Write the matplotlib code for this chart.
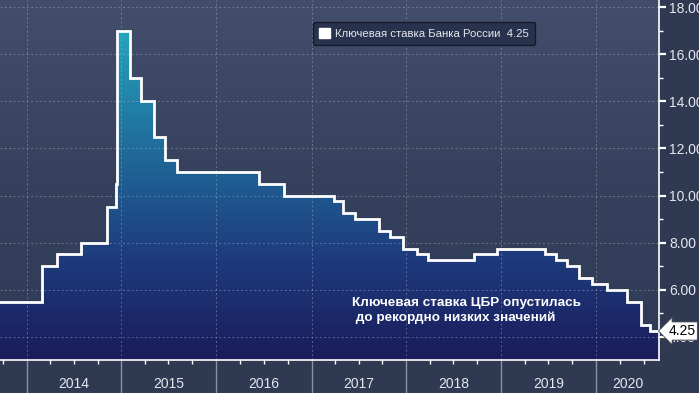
import numpy as np
import pandas as pd
import matplotlib
matplotlib.use('Agg')
from matplotlib import pyplot as plt
from matplotlib import dates as mdates
from matplotlib import transforms
from matplotlib.colors import LinearSegmentedColormap, Normalize
from matplotlib.patches import Patch
from matplotlib.ticker import MultipleLocator, FormatStrFormatter

plt.rcParams['font.family'] = ['Liberation Sans', 'DejaVu Sans']

# key rate of the Bank of Russia, date of change -> new level
change_dates = ['2013-09-13', '2014-03-03', '2014-04-28', '2014-07-28', '2014-11-05',
                '2014-12-12', '2014-12-16', '2015-02-02', '2015-03-16', '2015-05-05',
                '2015-06-16', '2015-08-03', '2016-06-14', '2016-09-19', '2017-03-27',
                '2017-05-02', '2017-06-19', '2017-09-18', '2017-10-30', '2017-12-18',
                '2018-02-12', '2018-03-26', '2018-09-17', '2018-12-17', '2019-06-17',
                '2019-07-29', '2019-09-09', '2019-10-28', '2019-12-16', '2020-02-10',
                '2020-04-27', '2020-06-22', '2020-07-27']
rates = [5.5, 7.0, 7.5, 8.0, 9.5,
         10.5, 17.0, 15.0, 14.0, 12.5,
         11.5, 11.0, 10.5, 10.0, 9.75,
         9.25, 9.0, 8.5, 8.25, 7.75,
         7.5, 7.25, 7.5, 7.75, 7.5,
         7.25, 7.0, 6.5, 6.25, 6.0,
         5.5, 4.5, 4.25]
last_date = '2020-08-28'
years = [2014, 2015, 2016, 2017, 2018, 2019, 2020]

legend_label = 'Ключевая ставка Банка России  4.25'
note_text = 'Ключевая ставка ЦБР опустилась\n до рекордно низких значений'
last_label = '4.25'

X_START = '2013-09-21'
X_END = '2020-08-30'
Y_MIN, Y_MAX = 3.02, 18.3

BG_FIG = '#2f3a52'
LABEL_COLOR = '#e4e7ee'


def build_series():
  xs = mdates.date2num(pd.to_datetime(change_dates + [last_date]))
  ys = np.array(rates + [rates[-1]])
  return xs, ys


def draw_background(ax, x0, x1):
  bg_cmap = LinearSegmentedColormap.from_list('bg', ['#2f3a56', '#36415e', '#434e6c'])
  grad = np.linspace(1, 0, 256).reshape(-1, 1)
  ax.imshow(grad, extent=[x0, x1, Y_MIN, Y_MAX], aspect='auto', cmap=bg_cmap,
            vmin=0, vmax=1, zorder=0, interpolation='bicubic')


def draw_area(ax, xs, ys, x0, x1):
  poly = ax.fill_between(xs, Y_MIN - 1, ys, step='post', facecolor='none',
                         edgecolor='none', zorder=1)
  fill_cmap = LinearSegmentedColormap.from_list(
    'fill', [(0.0, '#1a1c5a'), (0.3, '#1e3a7c'), (0.6, '#1f6596'), (1.0, '#25a3bd')])
  grad = np.linspace(Y_MAX, Y_MIN, 256).reshape(-1, 1)
  im = ax.imshow(grad, extent=[x0, x1, Y_MIN, Y_MAX], aspect='auto', cmap=fill_cmap,
                 norm=Normalize(3.0, 17.0), zorder=1, interpolation='bicubic')
  im.set_clip_path(poly.get_paths()[0], transform=ax.transData)
  ax.step(xs, ys, where='post', color='white', linewidth=2.0, zorder=4,
          solid_joinstyle='miter')


def style_axes(ax, fig, x0, x1):
  ax.set_xlim(x0, x1)
  ax.set_ylim(Y_MIN, Y_MAX)

  for side in ['left', 'top']:
    ax.spines[side].set_visible(False)
  for side in ['right', 'bottom']:
    ax.spines[side].set_color('white')
    ax.spines[side].set_linewidth(1.2)
    ax.spines[side].set_zorder(5)

  # right value axis
  ax.yaxis.tick_right()
  ax.yaxis.set_major_locator(MultipleLocator(2))
  ax.yaxis.set_minor_locator(MultipleLocator(1))
  ax.yaxis.set_major_formatter(FormatStrFormatter('%.2f'))
  ax.tick_params(axis='y', which='major', direction='out', length=5, width=1.6,
                 color='white', labelcolor=LABEL_COLOR, labelsize=10, pad=2)
  ax.tick_params(axis='y', which='minor', direction='out', length=3, width=1,
                 color='white')

  # time axis: long separators at year starts, short ticks at quarters
  ax.xaxis.set_major_locator(mdates.YearLocator())
  ax.xaxis.set_minor_locator(mdates.MonthLocator(bymonth=[4, 7, 10]))
  ax.xaxis.set_major_formatter(plt.NullFormatter())
  ax.tick_params(axis='x', which='major', direction='out', length=24, width=1,
                 color='#8a93a6')
  ax.tick_params(axis='x', which='minor', direction='out', length=3, width=1,
                 color='white')

  ax.grid(True, which='major', color='#aab2c6', alpha=0.45, linewidth=0.7,
          linestyle=(0, (2, 2.5)), zorder=3)
  ax.set_axisbelow(False)
  for line in ax.get_xgridlines() + ax.get_ygridlines():
    line.set_zorder(3)

  trans = ax.get_xaxis_transform()
  for y in years:
    start = mdates.date2num(pd.Timestamp(f'{y}-01-01'))
    end = min(mdates.date2num(pd.Timestamp(f'{y + 1}-01-01')), x1)
    ax.text((start + end) / 2, -0.066, str(y), transform=trans, ha='center',
            va='center', color=LABEL_COLOR, fontsize=10)


def draw_labels(ax, fig):
  ax.legend(handles=[Patch(facecolor='white', edgecolor='white')], labels=[legend_label],
            loc='upper left', bbox_to_anchor=(313 / 699, 1 - 22 / 393),
            bbox_transform=fig.transFigure, borderaxespad=0, fontsize=8.2,
            labelcolor=LABEL_COLOR, facecolor='#29324c', edgecolor='#141a2a',
            framealpha=1, fancybox=True, handlelength=0.9, handleheight=0.9,
            handletextpad=0.5, borderpad=0.55)

  ax.text(0.534, 0.175, note_text, transform=ax.transAxes, ha='left', va='top',
          color='white', fontsize=9.7, fontweight='bold', linespacing=1.25, zorder=6)

  tag_trans = transforms.blended_transform_factory(ax.transAxes, ax.transData) + \
      transforms.ScaledTranslation(9 / 100, 0, fig.dpi_scale_trans)
  ax.text(1.0, rates[-1], last_label, transform=tag_trans, ha='left', va='center',
          color='black', fontsize=10, zorder=7, clip_on=False,
          bbox=dict(boxstyle='larrow,pad=0.15', facecolor='white', edgecolor='#444444',
                    linewidth=0.6))


def main():
  fig = plt.figure(figsize=(6.99, 3.93), dpi=100, facecolor=BG_FIG)
  ax = fig.add_axes([0, 0.084, 0.943, 0.916])

  x0 = mdates.date2num(pd.Timestamp(X_START))
  x1 = mdates.date2num(pd.Timestamp(X_END))
  xs, ys = build_series()

  draw_background(ax, x0, x1)
  draw_area(ax, xs, ys, x0, x1)
  style_axes(ax, fig, x0, x1)
  draw_labels(ax, fig)

  fig.savefig('out.png', dpi=100, facecolor=BG_FIG)


if __name__ == '__main__':
  main()
